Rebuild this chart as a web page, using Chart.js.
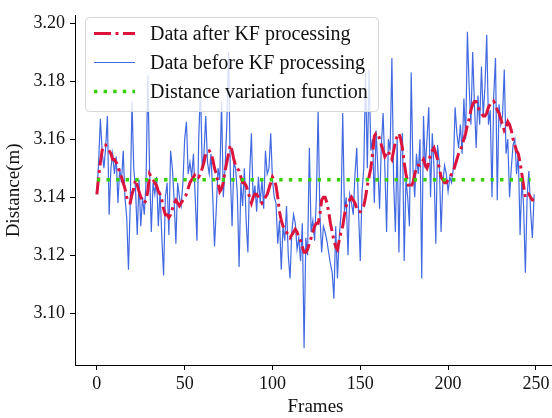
<!DOCTYPE html>
<html>
<head>
<meta charset="utf-8">
<script src="https://cdn.jsdelivr.net/npm/chart.js@4.4.1/dist/chart.umd.min.js"></script>
<style>
  html, body { margin:0; padding:0; background:#fff; overflow:hidden; }
  #wrap { width:552px; height:418px; overflow:hidden; }
</style>
</head>
<body>
<div id="wrap"><canvas id="kfChart" width="560" height="418"></canvas></div>
<script>
// distance after KF filtering, one value per frame
const kfData = [
  3.141,3.147,3.152,3.156,3.158,3.158,3.157,3.156,3.155,3.153,
  3.153,3.152,3.151,3.148,3.147,3.145,3.143,3.140,3.138,3.138,
  3.141,3.143,3.146,3.144,3.142,3.140,3.139,3.138,3.139,3.142,
  3.148,3.147,3.146,3.145,3.144,3.142,3.141,3.139,3.136,3.134,
  3.134,3.133,3.134,3.136,3.138,3.139,3.138,3.137,3.138,3.139,
  3.140,3.141,3.143,3.145,3.146,3.147,3.148,3.148,3.147,3.148,
  3.150,3.152,3.155,3.156,3.156,3.155,3.153,3.150,3.148,3.145,
  3.142,3.143,3.145,3.149,3.152,3.155,3.158,3.156,3.153,3.151,
  3.150,3.149,3.147,3.145,3.145,3.144,3.142,3.140,3.138,3.140,
  3.141,3.141,3.140,3.139,3.138,3.139,3.140,3.141,3.143,3.145,
  3.147,3.146,3.144,3.140,3.135,3.132,3.130,3.129,3.128,3.127,
  3.126,3.127,3.128,3.129,3.128,3.126,3.125,3.123,3.121,3.121,
  3.122,3.124,3.126,3.128,3.130,3.131,3.131,3.134,3.139,3.140,
  3.140,3.138,3.135,3.131,3.128,3.125,3.123,3.122,3.125,3.128,
  3.130,3.134,3.137,3.139,3.139,3.140,3.139,3.138,3.136,3.135,
  3.135,3.136,3.137,3.140,3.144,3.147,3.150,3.155,3.161,3.162,
  3.162,3.160,3.158,3.156,3.154,3.155,3.156,3.154,3.153,3.156,
  3.159,3.161,3.162,3.160,3.157,3.152,3.148,3.145,3.143,3.144,
  3.145,3.148,3.150,3.151,3.151,3.152,3.153,3.151,3.150,3.152,
  3.155,3.156,3.157,3.155,3.153,3.150,3.147,3.146,3.145,3.145,
  3.146,3.147,3.148,3.149,3.151,3.153,3.155,3.156,3.158,3.160,
  3.162,3.165,3.167,3.170,3.172,3.173,3.173,3.171,3.170,3.169,
  3.168,3.168,3.169,3.171,3.172,3.172,3.173,3.172,3.170,3.169,
  3.167,3.165,3.163,3.164,3.166,3.165,3.163,3.160,3.158,3.156,
  3.155,3.152,3.148,3.144,3.140,3.140,3.141,3.140,3.139,3.139
];

// raw measured distance before filtering
const rawData = [
  3.141,3.152,3.167,3.156,3.150,3.157,3.168,3.134,3.150,3.155,
  3.148,3.154,3.138,3.150,3.145,3.156,3.140,3.133,3.115,3.138,
  3.173,3.150,3.143,3.127,3.146,3.130,3.140,3.134,3.145,3.182,
  3.150,3.128,3.145,3.141,3.147,3.130,3.142,3.126,3.113,3.140,
  3.145,3.127,3.156,3.150,3.139,3.124,3.145,3.140,3.137,3.145,
  3.160,3.166,3.148,3.152,3.147,3.155,3.140,3.125,3.160,3.178,
  3.150,3.155,3.168,3.152,3.148,3.155,3.140,3.123,3.136,3.150,
  3.146,3.173,3.140,3.150,3.165,3.190,3.148,3.130,3.152,3.150,
  3.141,3.116,3.145,3.137,3.150,3.132,3.121,3.148,3.162,3.139,
  3.144,3.135,3.147,3.138,3.146,3.136,3.156,3.148,3.150,3.162,
  3.146,3.140,3.138,3.124,3.132,3.115,3.130,3.125,3.137,3.120,
  3.112,3.128,3.134,3.131,3.122,3.126,3.118,3.131,3.088,3.126,
  3.120,3.157,3.128,3.132,3.125,3.140,3.170,3.134,3.121,3.130,
  3.128,3.125,3.121,3.117,3.114,3.105,3.130,3.112,3.126,3.134,
  3.169,3.135,3.140,3.120,3.141,3.138,3.134,3.148,3.157,3.135,
  3.118,3.142,3.150,3.183,3.150,3.184,3.156,3.160,3.138,3.163,
  3.150,3.136,3.158,3.169,3.150,3.128,3.160,3.156,3.188,3.145,
  3.128,3.160,3.121,3.155,3.162,3.118,3.146,3.140,3.130,3.183,
  3.150,3.140,3.155,3.148,3.160,3.112,3.168,3.150,3.160,3.171,
  3.140,3.162,3.150,3.124,3.158,3.152,3.128,3.145,3.151,3.148,
  3.142,3.147,3.145,3.150,3.171,3.162,3.157,3.165,3.155,3.174,
  3.160,3.197,3.178,3.165,3.190,3.172,3.157,3.175,3.165,3.185,
  3.168,3.178,3.196,3.165,3.170,3.140,3.175,3.188,3.139,3.172,
  3.165,3.168,3.184,3.155,3.160,3.140,3.150,3.158,3.160,3.148,
  3.155,3.127,3.146,3.137,3.114,3.140,3.149,3.135,3.126,3.141
];

// reference distance function (constant)
const fnFrames = [0, 247];
const fnValues = [3.146, 3.146];

const frames = rawData.map((_, i) => i);
const xTicks = [0, 50, 100, 150, 200, 250];
const yTicks = [3.10, 3.12, 3.14, 3.16, 3.18, 3.20];
const labels = ['Data after KF processing', 'Data before KF processing', 'Distance variation function'];

const RED = '#DC143C', BLUE = '#4169E1', GREEN = '#33D100';
const SERIF = '"Liberation Serif", "Times New Roman", serif';

const toXY = (xs, ys) => xs.map((x, i) => ({x, y: ys[i]}));

// matplotlib-like legend box drawn over the plot
const boxLegend = {
  id: 'boxLegend',
  afterDraw(chart) {
    const ctx = chart.ctx;
    const x = 85.5, y = 17.5, w = 293, h = 94, r = 4;
    ctx.save();
    ctx.beginPath();
    ctx.roundRect(x, y, w, h, r);
    ctx.fillStyle = 'rgba(255,255,255,0.8)';
    ctx.fill();
    ctx.strokeStyle = '#d6d6d6';
    ctx.lineWidth = 1;
    ctx.stroke();
    const rows = [
      {y:33.5, color:RED,   width:3,   dash:[17,4.5,3,4.5]},
      {y:62.5, color:BLUE,  width:1.2, dash:[]},
      {y:91.5, color:GREEN, width:3.4, dash:[3.4,6.2]}
    ];
    rows.forEach((row, i) => {
      ctx.beginPath();
      ctx.setLineDash(row.dash);
      ctx.strokeStyle = row.color;
      ctx.lineWidth = row.width;
      ctx.moveTo(94, row.y);
      ctx.lineTo(135, row.y);
      ctx.stroke();
      ctx.setLineDash([]);
      ctx.fillStyle = '#111';
      ctx.font = '20px ' + SERIF;
      ctx.textBaseline = 'middle';
      ctx.fillText(labels[i], 150, row.y + 1);
    });
    ctx.restore();
  }
};

new Chart(document.getElementById('kfChart'), {
  type: 'line',
  data: {
    datasets: [
      {label: labels[0], data: toXY(frames, kfData), borderColor: RED, borderWidth: 3,
       borderDash: [17,4.5,3,4.5], pointRadius: 0, tension: 0, order: 1},
      {label: labels[1], data: toXY(frames, rawData), borderColor: BLUE, borderWidth: 1.2,
       pointRadius: 0, tension: 0, order: 2},
      {label: labels[2], data: toXY(fnFrames, fnValues), borderColor: GREEN, borderWidth: 3.4,
       borderDash: [3.4,6.2], pointRadius: 0, tension: 0, order: 0}
    ]
  },
  options: {
    responsive: false,
    animation: false,
    layout: {padding: {top: 8, right: 4, left: 0, bottom: 0}},
    plugins: {legend: {display: false}, tooltip: {enabled: false}},
    scales: {
      x: {
        type: 'linear', min: -12.45, max: 261.45,
        afterBuildTicks: s => { s.ticks = xTicks.map(v => ({value: v})); },
        afterFit: s => { s.height = 53; },
        grid: {drawOnChartArea: false, drawTicks: true, tickLength: 5, color: '#000'},
        border: {display: true, color: '#000', width: 1},
        ticks: {font: {family: SERIF, size: 18}, color: '#111', padding: 3, maxRotation: 0},
        title: {display: true, text: 'Frames', font: {family: SERIF, size: 19}, color: '#111', padding: {top: 0, bottom: 0}}
      },
      y: {
        type: 'linear', min: 3.0822, max: 3.2025,
        afterBuildTicks: s => { s.ticks = yTicks.map(v => ({value: v})); },
        afterFit: s => { s.width = 75; },
        grid: {drawOnChartArea: false, drawTicks: true, tickLength: 5, color: '#000'},
        border: {display: true, color: '#000', width: 1},
        ticks: {font: {family: SERIF, size: 18}, color: '#111', padding: 5, callback: v => v.toFixed(2)},
        title: {display: true, text: 'Distance(m)', font: {family: SERIF, size: 19}, color: '#111', padding: {top: 3, bottom: 0}}
      }
    }
  },
  plugins: [boxLegend]
});
</script>
</body>
</html>
